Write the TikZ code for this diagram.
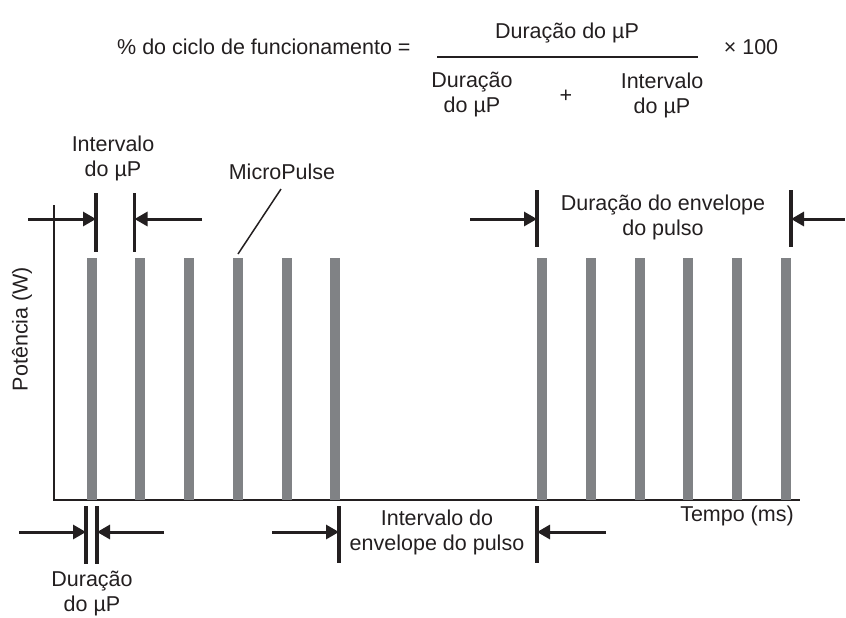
\documentclass[tikz,border=0pt]{standalone}
\usepackage{fontspec}
\setmainfont{Liberation Sans}
\usetikzlibrary{arrows.meta}
\definecolor{ink}{HTML}{231F20}
\definecolor{pulsegray}{HTML}{808285}

\begin{document}
\begin{tikzpicture}[x=0.5pt, y=-0.5pt, ink, font=\fontsize{10.75}{12.5}\selectfont,
    bar/.style = {fill=pulsegray, draw=none},
    tickline/.style = {line width=1.6pt},
    dim/.style = {line width=1.5pt, -{Triangle[length=6.5pt, width=7pt]}},
    lbl/.style = {align=center, inner sep=0pt}]
    \useasboundingbox (0,0) rectangle (846,617);

    % formula
    \node[lbl, anchor=east] (duty) at (411,47) {\% do ciclo de funcionamento =};
    \node[lbl] (num) at (567,33) {Duração do µP};
    \coordinate (fracL) at (437,57);
    \coordinate (fracR) at (698,57);
    \draw[line width=0.6pt] (fracL) -- (fracR);
    \node[lbl] (den1) at (472,95) {Duração\\do µP};
    \node[lbl] (plus) at (566,96) {+};
    \node[lbl] (den2) at (662,95) {Intervalo\\do µP};
    \node[lbl] (times) at (751,47) {× 100};

    % axes
    \coordinate (origin) at (54,500);
    \coordinate (ytop) at (54,205);
    \coordinate (xend) at (800,500);
    \draw[line width=0.75pt] (ytop) -- (origin) -- (xend);
    \node[lbl, rotate=90] (power) at (22,329) {Potência (W)};
    \node[lbl] (time) at (737,516) {Tempo (ms)};

    % pulses
    \foreach \x in {91.5,140.3,189,237.8,286.5,335.3,542,590.8,639.5,688.3,737,785.8}
        \fill[bar] ({\x-5},258) rectangle ({\x+5},500);

    % interval of the micropulse
    \node[lbl] (ivlbl) at (113,158) {Intervalo\\do µP};
    \draw[tickline] (96,193) -- (96,252);
    \draw[tickline] (134.5,193) -- (134.5,252);
    \coordinate (iv1) at (96,219);
    \coordinate (iv2) at (134.5,219);
    \coordinate (ivL) at (28,219);
    \coordinate (ivR) at (202,219);
    \draw[dim] (ivL) -- (iv1);
    \draw[dim] (ivR) -- (iv2);

    % micropulse label
    \node[lbl] (mp) at (282,172) {MicroPulse};
    \coordinate (mpTip) at (238,254);
    \coordinate (mpTop) at (281,189);
    \draw[line width=0.75pt] (mpTip) -- (mpTop);

    % envelope duration
    \node[lbl] (envdur) at (663,217) {Duração do envelope\\do pulso};
    \draw[tickline] (537,190) -- (537,247);
    \draw[tickline] (791,190) -- (791,247);
    \coordinate (ed1) at (537,219);
    \coordinate (ed2) at (791,219);
    \coordinate (edL) at (470,219);
    \coordinate (edR) at (845,219);
    \draw[dim] (edL) -- (ed1);
    \draw[dim] (edR) -- (ed2);

    % micropulse duration
    \node[lbl] (mpdur) at (92,594) {Duração\\do µP};
    \draw[tickline] (86,506) -- (86,564);
    \draw[tickline] (97,506) -- (97,564);
    \coordinate (md1) at (86,532);
    \coordinate (md2) at (97,532);
    \coordinate (mdL) at (19,532);
    \coordinate (mdR) at (164,532);
    \draw[dim] (mdL) -- (md1);
    \draw[dim] (mdR) -- (md2);

    % envelope interval
    \node[lbl] (envint) at (437,532) {Intervalo do\\envelope do pulso};
    \draw[tickline] (339,506) -- (339,563);
    \draw[tickline] (537,506) -- (537,563);
    \coordinate (ei1) at (339,532);
    \coordinate (ei2) at (537,532);
    \coordinate (eiL) at (272,532);
    \coordinate (eiR) at (606,532);
    \draw[dim] (eiL) -- (ei1);
    \draw[dim] (eiR) -- (ei2);
\end{tikzpicture}
\end{document}
